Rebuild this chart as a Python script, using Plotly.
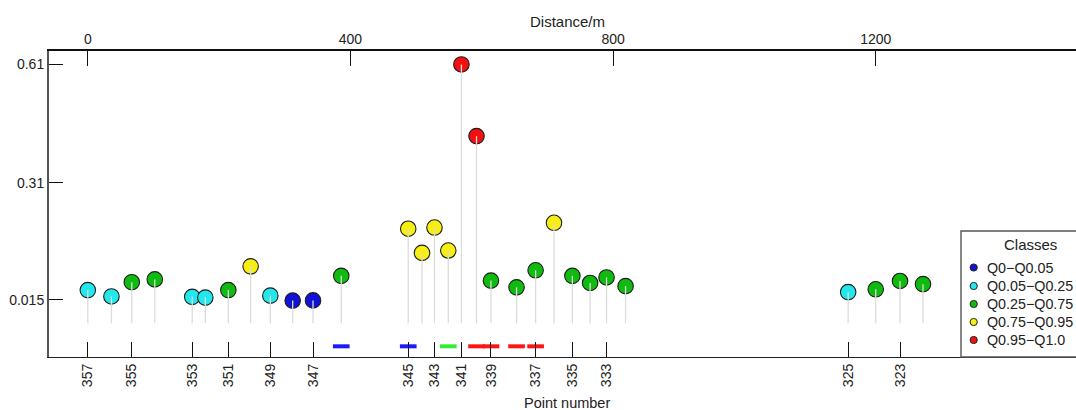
import plotly.graph_objects as go

# Survey points along the profile
point_no = [357, 356, 355, 354, 353, 352, 351, 350, 349, 348, 347, 346, 345, 344, 343,
            342, 341, 340, 339, 338, 337, 336, 335, 334, 333, 332, 325, 324, 323, 322]
distance_m = [0, 36, 67, 102, 159, 179, 214, 248, 278, 312, 343, 386, 488, 509, 528,
              549, 569, 592, 614, 653, 682, 710, 738, 765, 790, 819, 1158, 1200, 1237, 1272]
values = [0.039, 0.023, 0.059, 0.066, 0.022, 0.020, 0.039, 0.099, 0.025, 0.0125, 0.013,
          0.075, 0.194, 0.133, 0.197, 0.139, 0.609, 0.428, 0.063, 0.046, 0.089, 0.209,
          0.075, 0.057, 0.071, 0.049, 0.034, 0.041, 0.062, 0.054]
# class index per point (0..4)
point_class = [1, 1, 2, 2, 1, 1, 2, 3, 1, 0, 0, 2, 3, 3, 3, 3, 4, 4, 2, 2, 2, 3, 2, 2, 2, 2,
               1, 2, 2, 2]

class_names = ["Q0\u2212Q0.05", "Q0.05\u2212Q0.25", "Q0.25\u2212Q0.75",
               "Q0.75\u2212Q0.95", "Q0.95\u2212Q1.0"]
class_colors = ["#1212d6", "#22e8ee", "#10bb10", "#f7ee12", "#f21010"]

# Flagged segments shown along the bottom of the profile
segment_points = [346, 345, 342, 340, 339, 338, 337]
segment_colors = ["#1a1aff", "#1a1aff", "#33ee33", "#ff1414", "#ff1414", "#ff1414", "#ff1414"]

# Axis ticks
label_points = [357, 355, 353, 351, 349, 347, 345, 343, 341, 339, 337, 335, 333, 325, 323]
distance_ticks = [0, 400, 800, 1200]
value_ticks = [0.015, 0.31, 0.61]
value_tick_text = ["0.015", "0.31", "0.61"]

W, H = 1076, 410
ML, MT, MB, MR = 49, 51, 53, 0
XR = [-59.1, 1505.0]
YR = [-0.130, 0.643]
STEM_BASE = -0.045
SEG_Y = -0.103
SEG_HALF = 12.7

FONT = "Liberation Sans, Arial, Helvetica, sans-serif"
dist_of = dict(zip(point_no, distance_m))

fig = go.Figure()

# stems
sx, sy = [], []
for d, v in zip(distance_m, values):
    sx += [d, d, None]
    sy += [STEM_BASE, v, None]
fig.add_trace(go.Scatter(x=sx, y=sy, mode="lines", xaxis="x2",
                         line=dict(color="#dcdcdc", width=1.3),
                         hoverinfo="skip", showlegend=False))

# flagged segments
for col in dict.fromkeys(segment_colors):
    gx, gy = [], []
    for p, c in zip(segment_points, segment_colors):
        if c == col:
            d = dist_of[p]
            gx += [d - SEG_HALF, d + SEG_HALF, None]
            gy += [SEG_Y, SEG_Y, None]
    fig.add_trace(go.Scatter(x=gx, y=gy, mode="lines",
                             line=dict(color=col, width=4),
                             hoverinfo="skip", showlegend=False))

# points by class
for k, name in enumerate(class_names):
    xs = [d for d, c in zip(distance_m, point_class) if c == k]
    ys = [v for v, c in zip(values, point_class) if c == k]
    fig.add_trace(go.Scatter(
        x=xs, y=ys, mode="markers", name=name, showlegend=False,
        marker=dict(size=15.5, color=class_colors[k],
                    line=dict(color="#1c1c1c", width=1.1))))

axis_font = dict(family=FONT, size=14, color="#222")

fig.update_layout(
    width=W, height=H,
    margin=dict(l=ML, r=MR, t=MT, b=MB, pad=0, autoexpand=False),
    paper_bgcolor="white", plot_bgcolor="white",
    font=dict(family=FONT, size=14, color="#222"),
    xaxis=dict(
        range=XR, showgrid=False, zeroline=False,
        tickmode="array", tickvals=[dist_of[p] for p in label_points],
        ticktext=[str(p) for p in label_points], tickangle=-90,
        ticks="inside", ticklen=15, tickwidth=1.3, tickcolor="#111",
        showline=True, linecolor="#222", linewidth=1.4,
        tickfont=axis_font,
    ),
    xaxis2=dict(
        range=XR, overlaying="x", side="top", showgrid=False, zeroline=False,
        tickmode="array", tickvals=distance_ticks,
        ticktext=[str(t) for t in distance_ticks],
        ticks="inside", ticklen=15, tickwidth=1.3, tickcolor="#111",
        showline=True, linecolor="#111", linewidth=1.6,
        tickfont=axis_font,
    ),
    yaxis=dict(
        range=YR, showgrid=False, zeroline=False,
        tickmode="array", tickvals=value_ticks, ticktext=value_tick_text,
        ticks="inside", ticklen=14, tickwidth=1.3, tickcolor="#111",
        showline=True, linecolor="#555", linewidth=2,
        tickfont=axis_font,
    ),
)

# paper-space helpers (pixel -> paper fraction)
pw = W - ML - MR
ph = H - MT - MB


def px(xpix):
    return (xpix - ML) / pw


def py(ypix):
    return (H - MB - ypix) / ph


# axis titles
fig.add_annotation(text="Distance/m", xref="paper", yref="paper", x=px(567), y=py(22),
                   xanchor="center", yanchor="middle", showarrow=False,
                   font=dict(family=FONT, size=15, color="#222"))
fig.add_annotation(text="Point number", xref="paper", yref="paper", x=px(567), y=py(403),
                   xanchor="center", yanchor="middle", showarrow=False,
                   font=dict(family=FONT, size=14.5, color="#222"))

# legend box
fig.add_shape(type="rect", xref="paper", yref="paper",
              x0=px(961), x1=px(1110), y0=py(357), y1=py(231),
              line=dict(color="#555", width=1.4), fillcolor="white", layer="above")
fig.add_annotation(text="Classes", xref="paper", yref="paper", x=px(1030), y=py(244),
                   xanchor="center", yanchor="middle", showarrow=False,
                   font=dict(family=FONT, size=15, color="#222"))
item_y = [267.5, 286, 304, 322, 340]
for k, name in enumerate(class_names):
    fig.add_shape(type="circle", xref="paper", yref="paper",
                  xsizemode="pixel", ysizemode="pixel",
                  xanchor=px(973.7), yanchor=py(item_y[k]),
                  x0=-3.6, x1=3.6, y0=-3.6, y1=3.6,
                  fillcolor=class_colors[k], line=dict(color="#222", width=1),
                  layer="above")
    fig.add_annotation(text=name, xref="paper", yref="paper", x=px(985), y=py(item_y[k]),
                       xanchor="left", yanchor="middle", showarrow=False,
                       font=dict(family=FONT, size=14.3, color="#222"))

fig.write_html("out.html")
